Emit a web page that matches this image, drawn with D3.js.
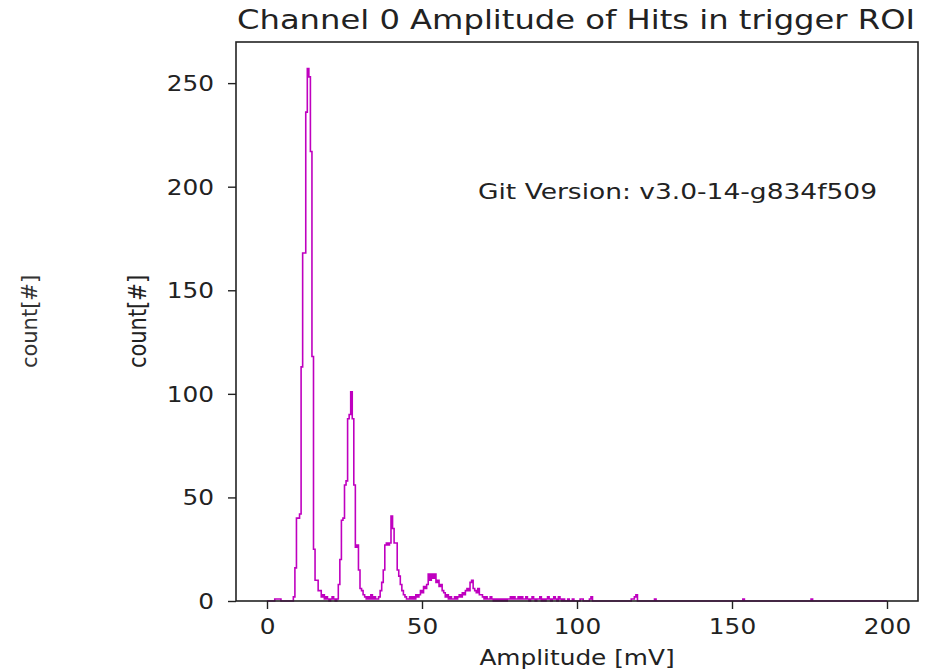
<!DOCTYPE html>
<html>
<head>
<meta charset="utf-8">
<script src="https://cdn.jsdelivr.net/npm/d3@7"></script>
<style>
  body { margin: 0; background: #fff; }
  svg { display: block; }
</style>
</head>
<body>
<svg id="chart" width="930" height="670"></svg>
<script>
// Histogram of hit amplitudes, 0.5 mV bins starting at 0 mV.
const binStart = 0;
const binWidth = 0.5;

// Counts per bin, 20 bins (10 mV) per row.
const counts_0_50 = [
  0, 0, 0, 0, 0, 1, 1, 1, 1, 0,   0, 0, 0, 0, 0, 0, 0, 2, 16, 40,
  40, 42, 113, 168, 168, 236, 257, 253, 217, 118,   25, 10, 10, 5, 5, 2, 3, 1, 2, 1,
  0, 1, 2, 1, 0, 1, 8, 20, 39, 40,   56, 58, 88, 90, 101, 88, 56, 26, 27, 15,
  6, 5, 3, 2, 1, 2, 1, 3, 1, 2,   1, 1, 2, 5, 9, 15, 27, 28, 27, 28,
  41, 35, 28, 28, 15, 12, 8, 5, 3, 2,   1, 1, 2, 1, 2, 1, 3, 2, 3, 5
];
const counts_50_100 = [
  4, 7, 6, 8, 13, 10, 13, 11, 13, 9,   10, 7, 8, 5, 4, 2, 3, 1, 2, 1,
  1, 2, 1, 2, 3, 2, 4, 3, 5, 6,   5, 9, 10, 6, 5, 4, 6, 3, 3, 2,
  1, 2, 1, 1, 2, 1, 0, 1, 0, 1,   0, 1, 0, 1, 0, 1, 1, 2, 1, 2,
  1, 1, 2, 1, 2, 1, 1, 2, 1, 0,   1, 2, 1, 0, 1, 1, 2, 0, 1, 0,
  1, 2, 1, 0, 1, 2, 1, 0, 2, 1,   0, 1, 0, 0, 1, 0, 0, 1, 0, 0
];
const counts_100_150 = [
  0, 0, 1, 1, 0, 0, 0, 0, 1, 2,   0, 0, 0, 0, 0, 0, 0, 0, 0, 0,
  0, 0, 0, 0, 0, 0, 0, 0, 0, 0,   0, 0, 0, 0, 0, 1, 1, 2, 3, 0,
  0, 0, 0, 0, 0, 0, 0, 0, 0, 0,   1, 0, 0, 0, 0, 0, 0, 0, 0, 0,
  0, 0, 0, 0, 0, 0, 0, 0, 0, 0,   0, 0, 0, 0, 0, 0, 0, 0, 0, 0,
  0, 0, 0, 0, 0, 0, 0, 0, 0, 0,   0, 0, 0, 0, 0, 0, 0, 0, 0, 0
];
const counts_150_200 = [
  0, 0, 0, 0, 0, 0, 0, 1, 0, 0,   0, 0, 0, 0, 0, 0, 0, 0, 0, 0,
  0, 0, 0, 0, 0, 0, 0, 0, 0, 0,   0, 0, 0, 0, 0, 0, 0, 0, 0, 0,
  0, 0, 0, 0, 0, 0, 0, 0, 0, 0,   0, 1, 0, 0, 0, 0, 0, 0, 0, 0,
  0, 0, 0, 0, 0, 0, 0, 0, 0, 0,   0, 0, 0, 0, 0, 0, 0, 0, 0, 0,
  0, 0, 0, 0, 0, 0, 0, 0, 0, 0,   0, 0, 0, 0, 0, 0, 0, 0, 0, 0
];

const xTicks = [0, 50, 100, 150, 200];
const yTicks = [0, 50, 100, 150, 200, 250];
const xDomain = [-10, 210];
const yMaxCount = 269.85;

const titleText = "Channel 0 Amplitude of Hits in trigger ROI";
const xLabelText = "Amplitude [mV]";
const yLabelText = "count[#]";
const versionText = "Git Version: v3.0-14-g834f509";

// ---------------------------------------------------------------
const counts = [].concat(counts_0_50, counts_50_100, counts_100_150, counts_150_200);

const plot = { left: 236, right: 918, top: 42, bottom: 601 };
const textColor = "#222";
const font = "DejaVu Sans, sans-serif";
const stretch = 1.18;          // wide glyph aspect used by all labels
const histColor = "#bf00bf";

const svg = d3.select("#chart");

const x = d3.scaleLinear().domain(xDomain).range([plot.left, plot.right]);
const y = d3.scaleLinear().domain([0, yMaxCount]).range([plot.bottom, plot.top]);

// step outline of the histogram
const pts = [[binStart, 0]];
counts.forEach((c, i) => pts.push([binStart + i * binWidth, c]));
pts.push([binStart + counts.length * binWidth, 0]);

const stepLine = d3.line()
  .x(d => x(d[0]))
  .y(d => y(d[1]))
  .curve(d3.curveStepAfter);

svg.append("path")
  .attr("d", stepLine(pts))
  .attr("fill", "none")
  .attr("stroke", histColor)
  .attr("stroke-width", 1.6)
  .attr("stroke-linejoin", "miter");

// axes
const xAxis = d3.axisBottom(x).tickValues(xTicks).tickSize(8).tickSizeOuter(0).tickFormat(d3.format("d"));
const yAxis = d3.axisLeft(y).tickValues(yTicks).tickSize(8).tickSizeOuter(0).tickFormat(d3.format("d"));

const gx = svg.append("g").attr("transform", `translate(0,${plot.bottom})`).call(xAxis);
const gy = svg.append("g").attr("transform", `translate(${plot.left},0)`).call(yAxis);

[gx, gy].forEach(g => {
  g.select(".domain").remove();
  g.selectAll(".tick line").attr("stroke", textColor).attr("stroke-width", 1.4);
  g.selectAll(".tick text")
    .attr("fill", textColor)
    .style("font-family", font)
    .style("font-size", "21px");
});

gx.selectAll(".tick text")
  .attr("y", 33).attr("dy", 0)
  .attr("transform", `scale(${stretch},1)`);

gy.selectAll(".tick text")
  .attr("x", -22 / stretch)
  .attr("dy", "0.36em")
  .attr("transform", `scale(${stretch},1)`);

// frame
svg.append("rect")
  .attr("x", plot.left).attr("y", plot.top)
  .attr("width", plot.right - plot.left).attr("height", plot.bottom - plot.top)
  .attr("fill", "none").attr("stroke", textColor).attr("stroke-width", 1.6);

// title
svg.append("text")
  .attr("x", plot.left + 1).attr("y", 29)
  .attr("textLength", 678).attr("lengthAdjust", "spacingAndGlyphs")
  .attr("fill", textColor)
  .style("font-family", font).style("font-size", "27px")
  .text(titleText);

// x label
svg.append("text")
  .attr("transform", `translate(${(plot.left + plot.right) / 2},665) scale(${stretch},1)`)
  .attr("text-anchor", "middle")
  .attr("fill", textColor)
  .style("font-family", font).style("font-size", "21px")
  .text(xLabelText);

// y label next to the axis
svg.append("text")
  .attr("transform", `translate(146,${(plot.top + plot.bottom) / 2}) rotate(-90) scale(1,${stretch})`)
  .attr("text-anchor", "middle")
  .attr("fill", textColor)
  .style("font-family", font).style("font-size", "21px")
  .text(yLabelText);

// outer y label
svg.append("text")
  .attr("transform", `translate(37,${(plot.top + plot.bottom) / 2}) rotate(-90)`)
  .attr("text-anchor", "middle")
  .attr("fill", "#333")
  .style("font-family", font).style("font-size", "21px")
  .text(yLabelText);

// version annotation
svg.append("text")
  .attr("x", 478).attr("y", 199)
  .attr("textLength", 399).attr("lengthAdjust", "spacingAndGlyphs")
  .attr("fill", textColor)
  .style("font-family", font).style("font-size", "21px")
  .text(versionText);
</script>
</body>
</html>
